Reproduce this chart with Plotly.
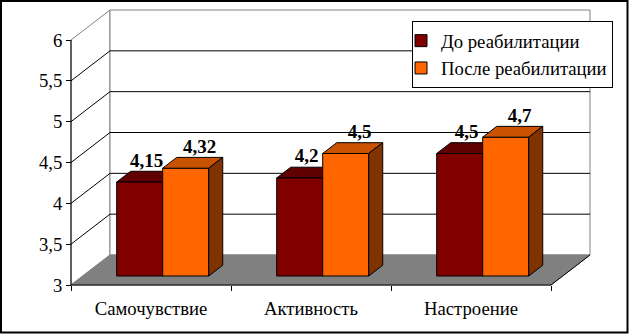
import plotly.graph_objects as go

# ---- data ----
categories = ["Самочувствие", "Активность", "Настроение"]
series_names = ["До реабилитации", "После реабилитации"]
before = [4.15, 4.2, 4.5]
after = [4.32, 4.5, 4.7]
y_ticks = [3, 3.5, 4, 4.5, 5, 5.5, 6]

# ---- look ----
W, H = 629, 334
FONT = "Liberation Serif, Times New Roman, serif"
TEXT_SIZE = 18.7
front_colors = ["#800000", "#FF6600"]
top_colors = ["#600000", "#C85200"]
side_colors = ["#400000", "#803300"]
label_shift = [0.5, 1.0]           # label offset along bar depth, per series
WALL_EDGE = "#808080"
FLOOR = "#808080"

# pixel geometry of the pseudo-3D box
ORIGIN_X, ORIGIN_Y = 71, 285        # front-left-bottom corner (value 3)
CAT_PX = 160                        # width of one category slot
UNIT_PX = 245 / 3                   # pixels per value unit
VMIN, VMAX = y_ticks[0], y_ticks[-1]
NCAT = len(categories)

# depth of the box expressed in axis units
DX = 39 / CAT_PX
DY = 30 / UNIT_PX
BAR_W = 46 / CAT_PX
FRONT_D = 0.30     # depth fraction where bar front faces stand
BAR_D = 0.36       # bar depth as a fraction of box depth

x_range = [-ORIGIN_X / CAT_PX, (W - ORIGIN_X) / CAT_PX]
y_range = [VMIN - (H - ORIGIN_Y) / UNIT_PX, VMIN + ORIGIN_Y / UNIT_PX]

fig = go.Figure()


def poly(xs, ys, fill, line_color, width=1, axes=("x", "y")):
    fig.add_trace(go.Scatter(
        x=list(xs) + [xs[0]], y=list(ys) + [ys[0]], mode="lines",
        fill="toself", fillcolor=fill,
        line=dict(color=line_color, width=width),
        xaxis=axes[0], yaxis=axes[1], hoverinfo="skip", showlegend=False))


def seg(xs, ys, color, width=1):
    fig.add_trace(go.Scatter(
        x=xs, y=ys, mode="lines", line=dict(color=color, width=width),
        xaxis="x", yaxis="y", hoverinfo="skip", showlegend=False))


# walls and floor
poly([0, DX, DX, 0], [VMIN, VMIN + DY, VMAX + DY, VMAX], "white", WALL_EDGE)
poly([DX, NCAT + DX, NCAT + DX, DX],
     [VMIN + DY, VMIN + DY, VMAX + DY, VMAX + DY], "white", WALL_EDGE)
poly([0, NCAT, NCAT + DX, DX], [VMIN, VMIN, VMIN + DY, VMIN + DY], FLOOR, FLOOR)

# gridlines on side and back wall
for v in y_ticks[1:-1]:
    seg([0, DX, NCAT + DX], [v, v + DY, v + DY], "black")

# front axes lines and floor edge
seg([0, 0, NCAT, NCAT + DX], [VMAX, VMIN, VMIN, VMIN + DY], "black")

# bar geometry
bdx, bdy = BAR_D * DX, BAR_D * DY
base = VMIN + FRONT_D * DY
values = [before, after]


def bar_left(i, s):
    return i + 0.5 - BAR_W + s * BAR_W + FRONT_D * DX


def faces(i, s, axes):
    xl = bar_left(i, s)
    xr = xl + BAR_W
    top = base + (values[s][i] - VMIN)
    poly([xl, xr, xr + bdx, xl + bdx], [top, top, top + bdy, top + bdy],
         top_colors[s], "black", axes=axes)
    poly([xr, xr + bdx, xr + bdx, xr], [base, base + bdy, top + bdy, top],
         side_colors[s], "black", axes=axes)


# first series' top and side faces sit underneath the bar layer
for i in range(NCAT):
    faces(i, 0, ("x", "y"))

# front faces of the bars
for s in range(2):
    fig.add_trace(go.Bar(
        x=[bar_left(i, s) + BAR_W / 2 for i in range(NCAT)],
        y=[v - VMIN for v in values[s]],
        base=[base] * NCAT, width=BAR_W,
        marker=dict(color=front_colors[s], line=dict(color="black", width=1)),
        name=series_names[s], xaxis="x2", yaxis="y2", hoverinfo="skip"))

# second series' top and side faces above the bars
for i in range(NCAT):
    faces(i, 1, ("x2", "y2"))

# value labels
for s in range(2):
    xs = [bar_left(i, s) + BAR_W / 2 + bdx * label_shift[s] for i in range(NCAT)]
    ys = [base + (v - VMIN) + bdy for v in values[s]]
    fig.add_trace(go.Scatter(
        x=xs, y=ys, mode="text", textposition="top center",
        text=[f"{v:g}".replace(".", ",") for v in values[s]],
        textfont=dict(family=FONT, size=19, color="black", weight="bold"),
        xaxis="x2", yaxis="y2", hoverinfo="skip", showlegend=False))

tick_font = dict(family=FONT, size=TEXT_SIZE, color="black")
fig.update_layout(
    width=W, height=H, margin=dict(l=0, r=0, t=0, b=0),
    paper_bgcolor="white", plot_bgcolor="white",
    font=dict(family=FONT, size=TEXT_SIZE, color="black"),
    separators=", ", barmode="overlay", showlegend=True,
    xaxis=dict(range=x_range, domain=[0, 1], anchor="free",
               position=(H - ORIGIN_Y) / H,
               tickmode="array", tickvals=[i + 0.5 for i in range(NCAT)],
               ticktext=categories, ticks="", tickfont=tick_font,
               ticklabelstandoff=10,
               minor=dict(tickmode="array", tickvals=list(range(NCAT + 1)),
                          ticks="outside", ticklen=5, tickwidth=1,
                          tickcolor="black", showgrid=False),
               showgrid=False, zeroline=False, showline=False, fixedrange=True),
    yaxis=dict(range=y_range, domain=[0, 1], anchor="free",
               position=ORIGIN_X / W,
               tickmode="array", tickvals=y_ticks, ticks="outside",
               ticklen=5, tickwidth=1, tickcolor="black", tickfont=tick_font,
               showgrid=False, zeroline=False, showline=False, fixedrange=True),
    xaxis2=dict(range=x_range, overlaying="x", anchor="y2", visible=False),
    yaxis2=dict(range=y_range, overlaying="y", anchor="x2", visible=False),
    legend=dict(x=412 / W, y=1 - 21 / H, xanchor="left", yanchor="top",
                bgcolor="white", bordercolor="black", borderwidth=1,
                font=dict(family=FONT, size=TEXT_SIZE, color="black"),
                itemwidth=30, indentation=-12, tracegroupgap=0,
                traceorder="normal"),
    shapes=[dict(type="rect", xref="paper", yref="paper",
                 x0=1 / W, x1=1 - 1.5 / W, y0=1.5 / H, y1=1 - 1 / H,
                 line=dict(color="black", width=2))],
)

fig.write_html("out.html")
